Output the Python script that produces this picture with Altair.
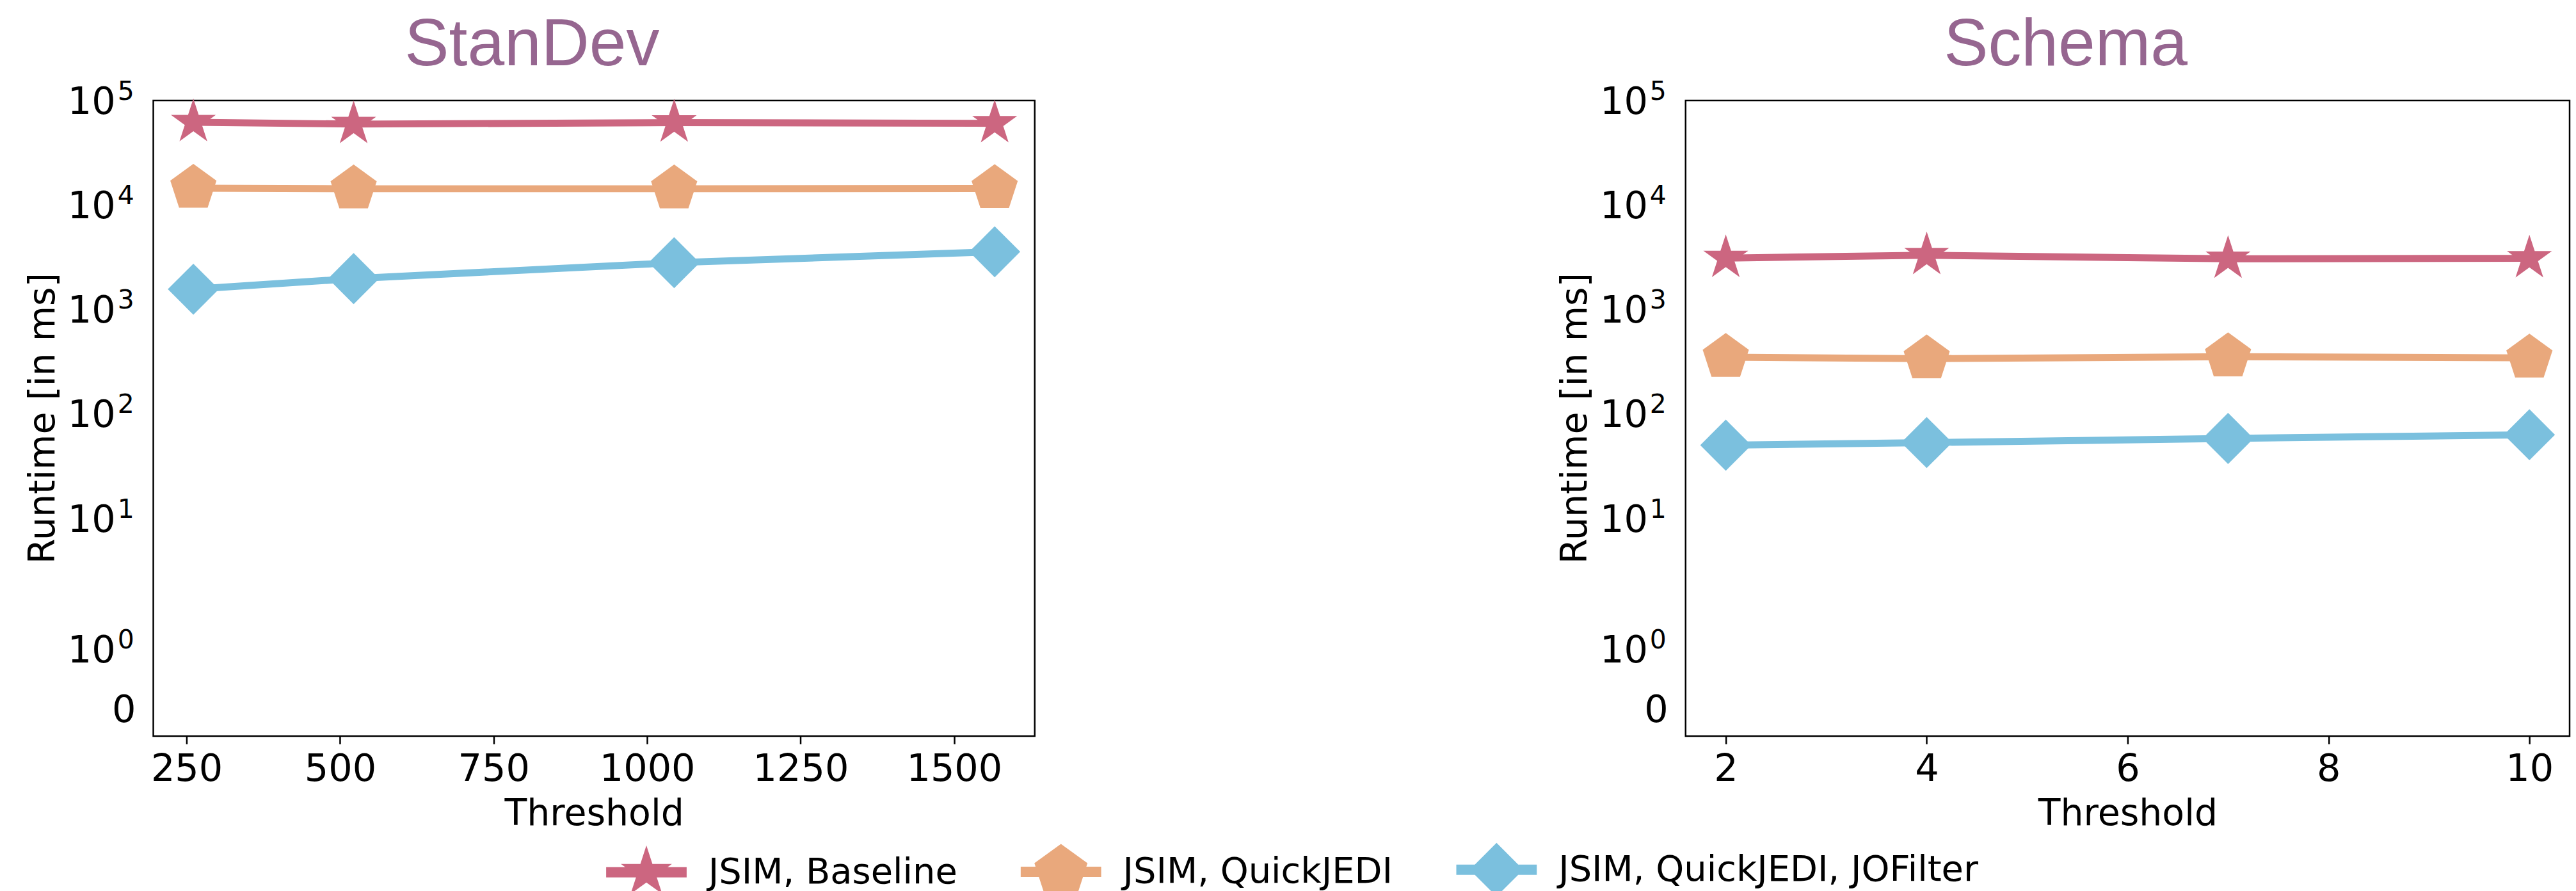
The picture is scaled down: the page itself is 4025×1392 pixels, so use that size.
import math
import altair as alt
import pandas as pd

# ---------------- data ----------------
series_names = ["JSIM, Baseline", "JSIM, QuickJEDI", "JSIM, QuickJEDI, JOFilter"]
series_colors = ["#CC6680", "#E9A87C", "#7BC0DE"]

stan_threshold = [261, 522, 1044, 1566]
stan_baseline = [62000, 59500, 61500, 60500]
stan_quickjedi = [14500, 14300, 14300, 14400]
stan_jofilter = [1560, 1970, 2800, 3560]

schema_threshold = [2, 4, 7, 10]
schema_baseline = [3100, 3300, 3050, 3080]
schema_quickjedi = [348, 337, 352, 343]
schema_jofilter = [50, 53, 58, 63]

y_tick_values = [0, 1, 10, 100, 1000, 10000, 100000]
y_tick_bases = ["0", "10", "10", "10", "10", "10", "10"]
y_tick_exponents = ["", "0", "1", "2", "3", "4", "5"]
stan_x_ticks = [250, 500, 750, 1000, 1250, 1500]
schema_x_ticks = [2, 4, 6, 8, 10]

panel_titles = ["StanDev", "Schema"]
x_title = "Threshold"
y_title = "Runtime [in ms]"

Y_MIN, Y_MAX = -0.5, 100000

TITLE_COLOR = "#966690"
FONT = "DejaVu Sans"

# ---------------- matplotlib-like symlog (linthresh=2, linscale=1) ----------------
LINTHRESH = 2.0
LINSCALE_ADJ = 1.0 / (1.0 - 1.0 / 10.0)


def symlog(v):
    if abs(v) <= LINTHRESH:
        return v * LINSCALE_ADJ / LINTHRESH
    return math.copysign(LINSCALE_ADJ + math.log10(abs(v) / LINTHRESH), v)


def symlog_expr(field):
    return (f"datum.{field} > {LINTHRESH} ? {LINSCALE_ADJ} + log(datum.{field}/{LINTHRESH})/LN10"
            f" : datum.{field}*{LINSCALE_ADJ / LINTHRESH}")


# ---------------- marker shapes ----------------
def path_of(points):
    return "M" + " L".join(f"{x:.4f},{y:.4f}" for x, y in points) + " Z"


def star_path(r, inner=0.381966):
    pts = []
    for k in range(10):
        a = math.radians(-90 + 36 * k)
        rr = r if k % 2 == 0 else r * inner
        pts.append((rr * math.cos(a), rr * math.sin(a)))
    return path_of(pts)


def pent_path(r):
    pts = []
    for k in range(5):
        a = math.radians(-90 + 72 * k)
        pts.append((r * math.cos(a), r * math.sin(a)))
    return path_of(pts)


def diam_path(r):
    return path_of([(0, -r), (r, 0), (0, r), (-r, 0)])


marker_paths = [star_path(0.925), pent_path(0.95), diam_path(1.0)]
seg = "M-1.5,-0.19 L1.5,-0.19 L1.5,0.19 L-1.5,0.19 Z "
legend_paths = [seg + star_path(1.0), seg + pent_path(1.04), seg + diam_path(1.0)]

legend = alt.Legend(
    title=None, orient="none", legendX=730, legendY=1162, direction="horizontal",
    columns=3, columnPadding=99, symbolSize=7056, symbolStrokeWidth=0,
    labelOffset=55, labelFont=FONT, labelFontSize=56, labelColor="black",
    labelLimit=2000, padding=0, symbolOpacity=1,
)

yscale = alt.Scale(domain=[symlog(Y_MIN), symlog(Y_MAX)], nice=False, zero=False)
cscale = alt.Scale(domain=series_names, range=series_colors)
PLOT_H = 995


def panel(thresholds, values_by_series, x_ticks, title, width, with_legend):
    rows = []
    for name, vals in zip(series_names, values_by_series):
        for t, v in zip(thresholds, vals):
            rows.append({"threshold": t, "runtime": v, "series": name})
    df = pd.DataFrame(rows)
    span = max(thresholds) - min(thresholds)
    x_dom = [min(thresholds) - 0.05 * span, max(thresholds) + 0.05 * span]

    x = alt.X("threshold:Q", scale=alt.Scale(domain=x_dom, nice=False, zero=False),
              axis=alt.Axis(values=x_ticks, format="d", title=x_title, titleY=139,
                            titleBaseline="alphabetic", labelPadding=11, tickSize=12,
                            grid=False, domain=False))
    y = alt.Y("sy:Q", scale=yscale,
              axis=alt.Axis(values=[symlog(v) for v in y_tick_values], labels=False,
                            tickSize=12, grid=False, domain=False, title=None))
    base = alt.Chart(df).transform_calculate(sy=symlog_expr("runtime"))
    layers = []
    if with_legend:
        # invisible layer that only feeds the shared legend
        layers.append(
            base.mark_point(filled=True, opacity=0, size=10).encode(
                x=x, y=y,
                color=alt.Color("series:N", scale=cscale, legend=legend),
                shape=alt.Shape("series:N",
                                scale=alt.Scale(domain=series_names, range=legend_paths),
                                legend=legend),
            )
        )
    for name, col in zip(series_names, series_colors):
        layers.append(
            base.transform_filter(alt.datum.series == name)
            .mark_line(strokeWidth=11, strokeJoin="round", color=col)
            .encode(x=x, y=y)
        )
    for name, col, shp in zip(series_names, series_colors, marker_paths):
        layers.append(
            base.transform_filter(alt.datum.series == name)
            .mark_point(filled=True, opacity=1, size=6400, strokeWidth=0, shape=shp, color=col)
            .encode(x=x, y=y)
        )

    tick_df = pd.DataFrame({"v": y_tick_values, "base": y_tick_bases, "exp": y_tick_exponents})
    tbase = alt.Chart(tick_df).transform_calculate(sy=symlog_expr("v"))
    ty = alt.Y("sy:Q", scale=yscale, axis=None)
    layers.append(tbase.transform_filter("datum.v > 0").mark_text(
        align="right", baseline="alphabetic", dy=21, font=FONT, fontSize=59, color="black"
    ).encode(x=alt.value(-59), y=ty, text="base:N"))
    layers.append(tbase.transform_filter("datum.v == 0").mark_text(
        align="right", baseline="alphabetic", dy=23, font=FONT, fontSize=59, color="black"
    ).encode(x=alt.value(-27), y=ty, text="base:N"))
    layers.append(tbase.transform_filter("datum.v > 0").mark_text(
        align="left", baseline="alphabetic", dy=-1, font=FONT, fontSize=41, color="black"
    ).encode(x=alt.value(-56), y=ty, text="exp:N"))

    # y-axis title and panel title as text marks
    layers.append(alt.Chart(pd.DataFrame({"label": [y_title]})).mark_text(
        angle=270, align="center", baseline="alphabetic", font=FONT, fontSize=57, color="black"
    ).encode(x=alt.value(-155), y=alt.value(PLOT_H / 2), text="label:N"))
    layers.append(alt.Chart(pd.DataFrame({"label": [title]})).mark_text(
        align="center", baseline="alphabetic", font="Liberation Sans", fontSize=104,
        color=TITLE_COLOR
    ).encode(x=alt.value(width / 2 - 97), y=alt.value(-55), text="label:N"))

    return alt.layer(*layers).properties(width=width, height=PLOT_H)


left = panel(stan_threshold, [stan_baseline, stan_quickjedi, stan_jofilter],
             stan_x_ticks, panel_titles[0], 1380, True)
right = panel(schema_threshold, [schema_baseline, schema_quickjedi, schema_jofilter],
              schema_x_ticks, panel_titles[1], 1384, False)

chart = alt.hconcat(left, right, spacing=1019, bounds="flush").properties(
    padding={"left": 29, "top": 8, "right": 0, "bottom": 0}
).configure_view(stroke="black", strokeWidth=2.5).configure_axis(
    labelFont=FONT, labelFontSize=59, labelColor="black",
    titleFont=FONT, titleFontSize=57, titleFontWeight="normal", titleColor="black",
    tickColor="black", tickWidth=2.5,
)

chart.save("out.html", embed_options={"renderer": "svg", "actions": False})
